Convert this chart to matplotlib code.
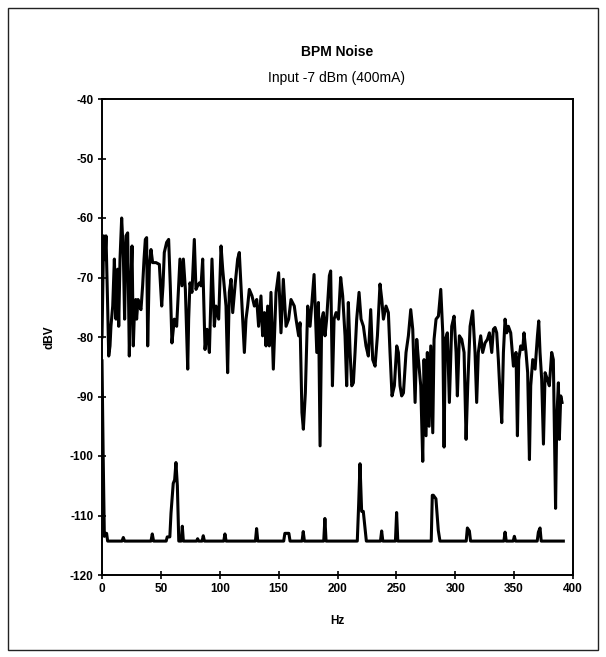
import matplotlib
matplotlib.use("Agg")
import matplotlib.pyplot as plt
from matplotlib.patches import Rectangle

plt.rcParams['font.family'] = ['Liberation Sans', 'DejaVu Sans']
plt.rcParams['axes.unicode_minus'] = False

# Upper trace: BPM noise spectrum (Hz, dBV)
noise_hz = [0.0, 0.7, 1.4, 2.5, 3.4, 4.8, 5.7, 6.8, 7.6, 9.1, 10.5, 11.9, 13.3, 14.2, 15.3,
            16.7, 18.1, 19.2, 20.4, 21.8, 23.2, 24.3, 25.5, 26.6, 27.7, 28.6, 29.4, 30.6,
            31.7, 33.1, 34.5, 35.7, 36.8, 37.9, 38.8, 40.2, 41.6, 43.0, 45.9, 48.7, 50.7,
            51.8, 52.9, 54.9, 56.6, 58.0, 59.4, 61.4, 63.4, 65.1, 66.2, 67.9, 69.1, 70.8,
            72.8, 73.6, 74.7, 76.4, 78.4, 79.8, 81.2, 82.7, 84.1, 85.5, 87.5, 89.2, 91.2,
            93.4, 95.4, 96.8, 99.1, 101.1, 102.5, 105.3, 106.7, 108.1, 109.6, 111.0, 113.2,
            115.2, 116.6, 118.9, 120.9, 122.3, 123.7, 125.1, 127.4, 129.4, 131.4, 133.0,
            135.0, 136.4, 137.9, 139.3, 140.7, 142.1, 143.5, 145.5, 147.8, 150.0, 152.0,
            154.0, 156.3, 158.5, 160.5, 163.3, 164.8, 167.0, 168.2, 169.8, 171.0, 172.7,
            174.7, 176.7, 180.1, 182.4, 183.8, 185.2, 186.6, 188.0, 189.4, 190.8, 193.1,
            194.2, 195.7, 197.1, 198.8, 200.8, 202.7, 204.4, 206.4, 207.8, 209.2, 210.7,
            212.1, 213.5, 214.9, 216.3, 218.3, 220.0, 222.0, 224.2, 226.2, 228.2, 229.9,
            231.9, 233.9, 236.1, 237.6, 239.0, 241.2, 243.2, 244.6, 246.3, 248.3, 250.3,
            251.7, 253.1, 254.5, 256.0, 258.2, 260.2, 262.2, 263.9, 265.9, 267.3, 268.7,
            270.7, 272.4, 273.5, 275.2, 276.3, 277.8, 279.2, 280.9, 282.0, 283.7, 285.7,
            287.7, 289.4, 290.5, 291.6, 293.3, 295.0, 297.0, 299.0, 300.7, 301.8, 303.5,
            305.5, 307.5, 309.2, 310.6, 312.6, 314.8, 316.8, 318.2, 319.6, 321.6, 323.3,
            325.3, 327.3, 329.0, 331.0, 332.4, 333.8, 335.2, 336.6, 338.0, 339.5, 340.9,
            342.3, 343.7, 345.1, 347.1, 349.4, 351.6, 352.8, 353.9, 355.6, 357.3, 358.4,
            360.1, 361.5, 363.0, 364.1, 365.8, 367.8, 369.8, 370.9, 372.0, 373.4, 374.9,
            376.3, 378.2, 379.9, 381.9, 383.3, 385.2, 386.2, 387.6, 388.4, 389.6, 390.7]
noise_db = [-80.0, -72.0, -63.0, -67.0, -63.0, -74.8, -83.2, -81.5, -78.2, -74.8, -66.9, -77.0,
            -68.6, -78.2, -66.9, -60.0, -65.8, -77.0, -63.0, -62.5, -83.2, -72.5, -64.7,
            -81.5, -74.8, -73.7, -77.0, -73.7, -74.8, -75.4, -71.4, -66.9, -63.6, -63.3,
            -81.5, -68.1, -65.3, -67.5, -67.5, -67.8, -74.8, -71.4, -65.8, -64.1, -63.6,
            -71.4, -81.0, -77.0, -78.2, -71.4, -66.9, -71.4, -66.9, -72.0, -85.4, -77.0,
            -70.9, -72.5, -63.6, -72.0, -71.4, -70.9, -71.4, -66.9, -82.1, -78.7, -82.6,
            -66.9, -78.2, -74.8, -77.0, -64.7, -68.6, -74.8, -86.0, -72.5, -70.3, -75.9,
            -70.9, -66.9, -65.8, -74.8, -82.6, -77.0, -74.8, -72.0, -73.1, -74.8, -73.7,
            -78.2, -73.1, -79.8, -75.9, -81.5, -74.8, -81.5, -72.5, -85.4, -72.5, -69.2,
            -79.3, -70.3, -78.2, -77.0, -73.7, -74.8, -77.0, -79.8, -77.6, -92.7, -95.5,
            -89.4, -74.8, -78.2, -69.5, -82.6, -74.2, -98.3, -77.0, -75.9, -79.8, -77.0,
            -69.7, -68.9, -88.2, -77.0, -75.9, -77.0, -70.0, -73.1, -79.8, -88.2, -74.2,
            -82.6, -88.2, -87.7, -82.6, -77.0, -72.5, -77.0, -78.2, -81.5, -83.2, -75.4,
            -83.8, -84.9, -79.8, -71.1, -73.7, -77.0, -74.8, -75.9, -82.6, -89.9, -88.2,
            -81.5, -82.6, -88.2, -89.9, -89.4, -82.6, -79.8, -75.4, -78.7, -91.0, -80.4,
            -83.8, -88.2, -100.9, -83.8, -96.6, -82.6, -95.0, -81.5, -96.1, -80.4, -77.0,
            -76.5, -72.0, -79.3, -98.5, -80.4, -79.3, -91.0, -78.2, -76.5, -82.6, -89.9,
            -79.8, -80.4, -82.6, -97.2, -88.2, -78.2, -75.6, -82.6, -91.0, -82.6, -79.8,
            -82.6, -81.0, -80.4, -79.3, -82.6, -78.7, -78.4, -79.3, -83.8, -89.4, -94.4,
            -82.6, -77.0, -79.3, -78.2, -79.3, -84.9, -82.6, -96.6, -83.8, -81.5, -82.1,
            -79.3, -82.6, -86.0, -100.6, -88.2, -83.8, -85.4, -79.8, -77.3, -82.6, -87.1,
            -98.0, -86.0, -87.1, -88.2, -82.6, -83.8, -108.8, -93.8, -87.7, -97.2, -89.9,
            -91.0]

# Lower trace: noise floor with spectral lines (Hz, dBV)
floor_hz = [0.0, 1.0, 2.0, 3.2, 3.9, 4.8, 17.0, 18.1, 19.2, 41.6, 42.7, 43.8, 54.5, 55.4,
            57.6, 58.6, 60.5, 61.7, 62.8, 64.0, 65.2, 66.2, 67.3, 68.2, 69.1, 80.3, 81.2,
            82.1, 85.0, 86.0, 87.0, 103.4, 104.4, 105.4, 130.3, 131.3, 132.3, 154.3, 155.3,
            158.7, 159.7, 169.9, 170.9, 171.9, 188.3, 189.3, 190.3, 216.8, 218.0, 219.1,
            220.5, 221.9, 223.3, 224.5, 236.5, 237.5, 238.5, 249.2, 250.2, 251.2, 279.6,
            280.5, 281.4, 283.6, 285.6, 287.0, 309.3, 310.3, 312.0, 313.0, 341.3, 342.3,
            343.3, 349.2, 350.2, 351.2, 369.6, 370.6, 372.0, 373.0, 391.8]
floor_db = [-84.0, -100.0, -113.5, -113.0, -113.0, -114.3, -114.3, -113.7, -114.3, -114.3,
            -113.1, -114.3, -114.3, -113.6, -113.6, -109.6, -104.6, -104.0, -101.1, -105.0,
            -114.3, -114.3, -114.3, -111.8, -114.3, -114.3, -113.9, -114.3, -114.3, -113.4,
            -114.3, -114.3, -113.1, -114.3, -114.3, -112.2, -114.3, -114.3, -113.0, -113.0,
            -114.3, -114.3, -112.7, -114.3, -114.3, -110.5, -114.3, -114.3, -108.0, -101.3,
            -109.3, -109.3, -112.0, -114.3, -114.3, -112.6, -114.3, -114.3, -109.5, -114.3,
            -114.3, -106.6, -106.6, -107.2, -112.5, -114.3, -114.3, -112.1, -112.6, -114.3,
            -114.3, -112.8, -114.3, -114.3, -113.5, -114.3, -114.3, -112.8, -112.1, -114.3,
            -114.3]

x_ticks = [0, 50, 100, 150, 200, 250, 300, 350, 400]
y_ticks = [-120, -110, -100, -90, -80, -70, -60, -50, -40]

fig = plt.figure(figsize=(6.06, 6.57), dpi=100)
ax = fig.add_axes([102 / 606, 1 - 575 / 657, 471 / 606, 476 / 657])

ax.plot(noise_hz, noise_db, color='black', lw=2.2, solid_joinstyle='round')
ax.plot(floor_hz, floor_db, color='black', lw=2.2, solid_joinstyle='round')

ax.set_xlim(0, 400)
ax.set_ylim(-120, -40)
ax.set_xticks(x_ticks)
ax.set_yticks(y_ticks)
ax.tick_params(direction='inout', length=6, width=1.2, labelsize=8.5, pad=3)
for lbl in ax.get_xticklabels() + ax.get_yticklabels():
    lbl.set_fontweight('bold')
for s in ax.spines.values():
    s.set_linewidth(1.4)
    s.set_color('black')

ax.set_xlabel('Hz', fontsize=8.5, fontweight='bold', labelpad=14)
ax.set_ylabel('dBV', fontsize=8.5, fontweight='bold', labelpad=10)

fig.text(337 / 606, 1 - 52 / 657, 'BPM Noise', ha='center', va='center',
         fontsize=10, fontweight='bold')
fig.text(337 / 606, 1 - 78 / 657, 'Input -7 dBm (400mA)', ha='center', va='center',
         fontsize=10)

fig.patches.append(Rectangle((8 / 606, 1 - 650 / 657), 590 / 606, 642 / 657,
                             transform=fig.transFigure, fill=False,
                             edgecolor='#222222', lw=1.0))

fig.savefig('out.png', dpi=100)
